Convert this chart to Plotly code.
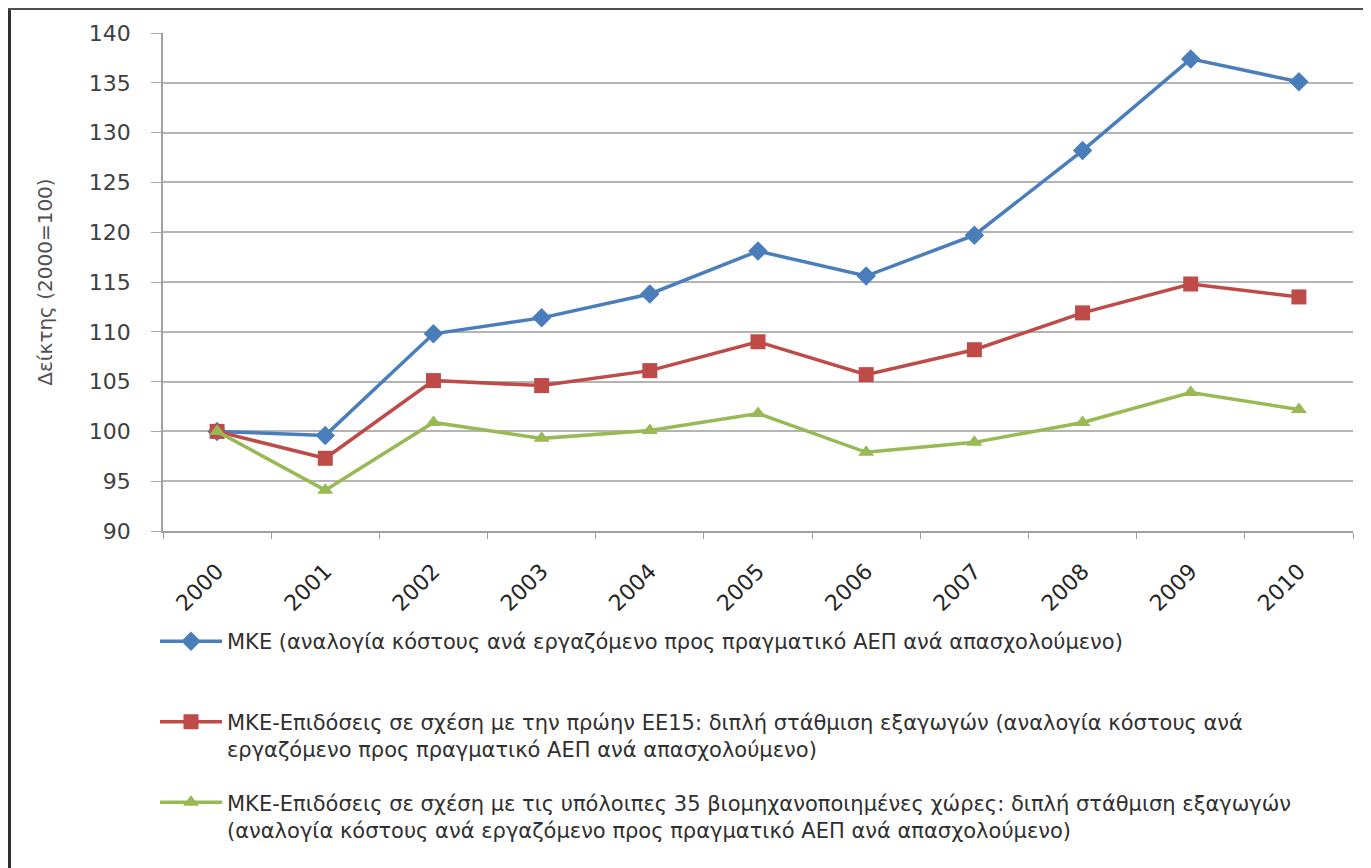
import plotly.graph_objects as go

years = ["2000", "2001", "2002", "2003", "2004", "2005", "2006", "2007", "2008", "2009", "2010"]
mke = [100, 99.6, 109.8, 111.4, 113.8, 118.1, 115.6, 119.7, 128.2, 137.4, 135.1]
mke_ee15 = [100, 97.3, 105.1, 104.6, 106.1, 109.0, 105.7, 108.2, 111.9, 114.8, 113.5]
mke_35 = [100, 94.1, 100.9, 99.3, 100.1, 101.8, 97.9, 98.9, 100.9, 103.9, 102.2]

names = [
    "ΜΚΕ (αναλογία κόστους ανά εργαζόμενο προς πραγματικό ΑΕΠ ανά απασχολούμενο)<br> ",
    "ΜΚΕ-Επιδόσεις σε σχέση με την πρώην ΕΕ15: διπλή στάθμιση εξαγωγών (αναλογία κόστους ανά<br>εργαζόμενο προς πραγματικό ΑΕΠ ανά απασχολούμενο)",
    "ΜΚΕ-Επιδόσεις σε σχέση με τις υπόλοιπες 35 βιομηχανοποιημένες χώρες: διπλή στάθμιση εξαγωγών<br>(αναλογία κόστους ανά εργαζόμενο προς πραγματικό ΑΕΠ ανά απασχολούμενο)",
]
y_ticks = [90, 95, 100, 105, 110, 115, 120, 125, 130, 135, 140]

series = [
    (mke, "#4A7EBB", "diamond", 15),
    (mke_ee15, "#BE4B48", "square", 15),
    (mke_35, "#98B954", "triangle-up", 14),
]

# Page has an 8px body margin; figure size/margins compensate for it
W, H = 1363, 860
ML, MR, MT, MB = 155, 18, 25, 337
PW, PH = W - ML - MR, H - MT - MB


def px_x(fx):
    return (fx - ML) / PW


def px_y(fy):
    return (H - MB - fy) / PH


fig = go.Figure()
for i, (vals, col, sym, sz) in enumerate(series):
    fig.add_trace(go.Scatter(
        x=years, y=vals, name=names[i], mode="lines+markers",
        legendgroup=f"g{i}",
        line=dict(color=col, width=3.5),
        marker=dict(symbol=sym, size=sz, color=col),
    ))

fig.update_layout(
    width=W, height=H,
    paper_bgcolor="white", plot_bgcolor="white",
    margin=dict(l=ML, r=MR, t=MT, b=MB, autoexpand=False),
    font=dict(family="DejaVu Sans", color="#404040"),
    showlegend=True,
    legend=dict(
        x=px_x(147), y=px_y(613), xanchor="left", yanchor="top",
        orientation="v", tracegroupgap=23, valign="top",
        font=dict(family="DejaVu Sans", size=21, color="#303030"),
        bgcolor="rgba(0,0,0,0)", itemwidth=62,
    ),
    xaxis=dict(
        type="category", tickson="boundaries", ticks="outside", ticklen=6,
        tickcolor="#A0A0A0", showline=True, linecolor="#A0A0A0", linewidth=1.5,
        showgrid=False, tickangle=-45, ticklabelstandoff=17,
        tickfont=dict(size=22, color="#262626"),
        range=[-0.5, 10.5],
    ),
    yaxis=dict(
        range=[90, 140], tickvals=y_ticks, ticks="outside", ticklen=10,
        tickcolor="#A8A8A8", showline=True, linecolor="#A0A0A0", linewidth=1.5,
        showgrid=True, gridcolor="#B4B4B4", gridwidth=1.8,
        tickfont=dict(size=22, color="#404040"), ticklabelstandoff=16,
        title=dict(text="Δείκτης (2000=100)", font=dict(size=20, color="#505050"), standoff=31),
        zeroline=False,
    ),
)

# image frame lines (left and top)
fig.add_shape(type="line", xref="paper", yref="paper",
              x0=px_x(1.5), x1=px_x(1.5), y0=px_y(H), y1=px_y(0),
              line=dict(color="#303030", width=3))
fig.add_shape(type="line", xref="paper", yref="paper",
              x0=px_x(0), x1=px_x(W), y0=px_y(1), y1=px_y(1),
              line=dict(color="#505050", width=2))

fig.write_html("out.html")
